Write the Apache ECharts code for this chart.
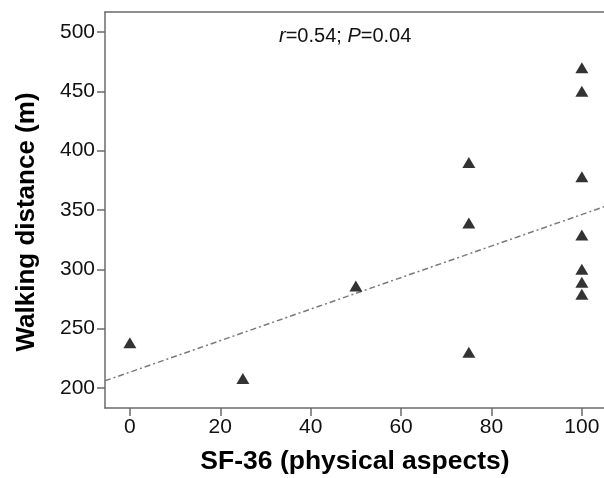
<!DOCTYPE html>
<html>
<head>
<meta charset="utf-8">
<script src="https://cdn.jsdelivr.net/npm/echarts@6/dist/echarts.min.js"></script>
<style>
html,body{margin:0;padding:0;background:#fff;}
#c{width:604px;height:478px;}
</style>
</head>
<body>
<div id="c"></div>
<script>
// SF-36 physical aspects score
const sfScore = [0, 25, 50, 75, 75, 75, 100, 100, 100, 100, 100, 100, 100];
// Walking distance (m)
const walkDist = [238, 208, 286, 230, 339, 390, 470, 450, 378, 329, 300, 289, 279];
// Regression line endpoints
const regX = [-5.5, 104.9];
const regY = [206, 352.7];
// Tick labels
const xTicks = [0, 20, 40, 60, 80, 100];
const yTicks = [200, 250, 300, 350, 400, 450, 500];

const FONT = '"Liberation Sans", Arial, Helvetica, sans-serif';
const AX = '#6b6b6b';

const chart = echarts.init(document.getElementById('c'), null, {renderer: 'canvas'});
const xMin = -5.5, xMax = 104.9, yMin = 183.1, yMax = 516.9;

chart.setOption({
  animation: false,
  backgroundColor: '#fff',
  grid: {left: 105, right: 0, top: 12, bottom: 70, containLabel: false},
  xAxis: [{
    type: 'value', min: xMin, max: xMax, position: 'bottom',
    axisLine: {show: true, onZero: false, lineStyle: {color: AX, width: 1.5}},
    axisTick: {show: true, length: 8, lineStyle: {color: AX, width: 1.5}, customValues: xTicks},
    axisLabel: {show: true, color: '#111', fontSize: 21, fontFamily: FONT, margin: 9, customValues: xTicks},
    splitLine: {show: false}
  }, {
    type: 'value', min: xMin, max: xMax, position: 'top',
    axisLine: {show: true, onZero: false, lineStyle: {color: AX, width: 1.5}},
    axisTick: {show: false}, axisLabel: {show: false}, splitLine: {show: false}
  }],
  yAxis: [{
    type: 'value', min: yMin, max: yMax, position: 'left',
    axisLine: {show: true, onZero: false, lineStyle: {color: AX, width: 1.5}},
    axisTick: {show: true, length: 8, lineStyle: {color: AX, width: 1.5}, customValues: yTicks},
    axisLabel: {show: true, color: '#111', fontSize: 21, fontFamily: FONT, margin: 10, customValues: yTicks},
    splitLine: {show: false}
  }],
  title: {
    left: 274, top: 21,
    text: '{i|r}=0.54; {i|P}=0.04',
    textStyle: {
      fontSize: 20, fontWeight: 'normal', color: '#111', fontFamily: FONT,
      rich: {i: {fontStyle: 'italic', fontSize: 20, color: '#111', fontFamily: FONT}}
    }
  },
  graphic: [{
    type: 'text', x: 355, y: 462,
    style: {text: 'SF-36 (physical aspects)', font: 'bold 26.5px ' + FONT, fill: '#000', textAlign: 'center', textVerticalAlign: 'middle'}
  }, {
    type: 'text', x: 27, y: 222, rotation: Math.PI / 2,
    style: {text: 'Walking distance (m)', font: 'bold 26px ' + FONT, fill: '#000', textAlign: 'center', textVerticalAlign: 'middle'}
  }],
  series: [{
    type: 'line', xAxisIndex: 0,
    data: regX.map((x, i) => [x, regY[i]]),
    showSymbol: false, symbol: 'none',
    lineStyle: {color: '#7a7a7a', width: 1.5, type: [6, 3, 2, 3]},
    z: 1, silent: true
  }, {
    type: 'scatter', xAxisIndex: 0,
    data: sfScore.map((x, i) => [x, walkDist[i]]),
    symbol: 'triangle', symbolSize: [13, 11],
    itemStyle: {color: '#000'},
    z: 3
  }]
});
</script>
</body>
</html>
